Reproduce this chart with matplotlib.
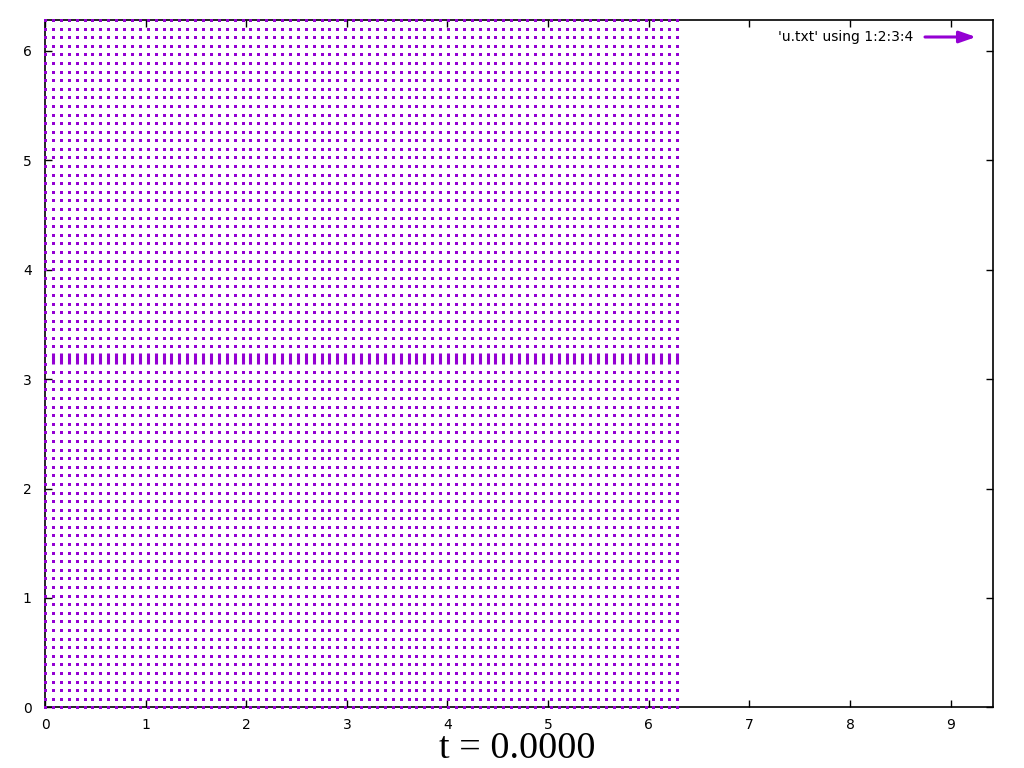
import matplotlib
matplotlib.use("Agg")
import matplotlib.pyplot as plt
from matplotlib.collections import LineCollection
import numpy as np

# grid of u.txt (81 x 81 points on [0, 2pi])
n = 81
xs = np.linspace(0, 2 * np.pi, n)
ys = np.linspace(0, 2 * np.pi, n)
X, Y = np.meshgrid(xs, ys)

# vector components: flow at rest, except a small upward jump along y = pi
U = np.zeros((n, n))
V = np.zeros((n, n))
V[40, 1:] = 0.10

title = "t = 0.0000"
legend_label = "'u.txt' using 1:2:3:4"
xticks = list(range(0, 10))
yticks = list(range(0, 7))
COLOR = "#9400D3"

fig = plt.figure(figsize=(10.24, 7.68), dpi=100)
ax = fig.add_axes([45 / 1024, 1 - 707.3 / 768, (993.3 - 45) / 1024, (707.3 - 20) / 768])

mag = np.hypot(U, V)
still = mag == 0
ax.scatter(X[still], Y[still], marker="s", s=4.67, color=COLOR, linewidths=0,
           zorder=5, clip_on=False, snap=False)

moving = ~still
segs = [[(x, y), (x + u, y + v)] for x, y, u, v in
        zip(X[moving], Y[moving], U[moving], V[moving])]
ax.add_collection(LineCollection(segs, colors=COLOR, linewidths=2.2, capstyle="butt", zorder=5))

ax.set_xlim(0, 3 * np.pi)
ax.set_ylim(0, 2 * np.pi)
ax.set_xticks(xticks)
ax.set_yticks(yticks)
ax.tick_params(direction="in", length=5, width=1, top=True, right=True,
               labelsize=10, colors="black")
ax.tick_params(axis="x", pad=8)
ax.tick_params(axis="y", pad=9.5)
for sp in ax.spines.values():
    sp.set_linewidth(1.2)
    sp.set_zorder(4)

# key, gnuplot style
fig.text(913 / 1024, 1 - 37 / 768, legend_label, ha="right", va="center", fontsize=10)
ax.annotate("", xy=(976 / 1024, 1 - 37 / 768), xytext=(925 / 1024, 1 - 37 / 768),
            xycoords="figure fraction", textcoords="figure fraction",
            arrowprops=dict(arrowstyle="-|>,head_length=1.0,head_width=0.35",
                            color=COLOR, lw=2.2, shrinkA=0, shrinkB=0))

fig.text(517 / 1024, 1 - 758 / 768, title, ha="center", va="baseline",
         fontsize=27.5, family="Liberation Serif")

fig.savefig("out.png", dpi=100)
